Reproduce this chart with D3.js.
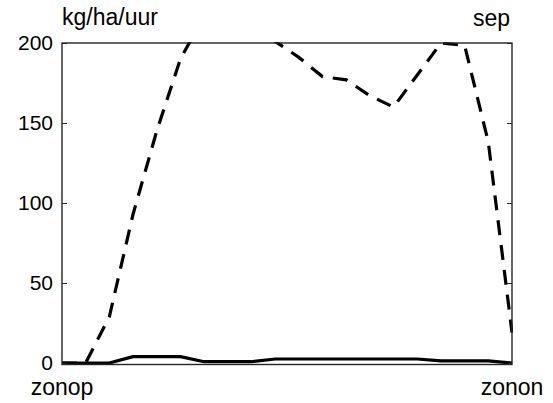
<!DOCTYPE html>
<html>
<head>
<meta charset="utf-8">
<script src="https://cdn.jsdelivr.net/npm/d3@7"></script>
<style>
  html, body { margin: 0; padding: 0; background: #fff; }
  svg { display: block; }
  text { font-family: "Liberation Sans", Arial, sans-serif; fill: #000; }
</style>
</head>
<body>
<svg id="chart" width="553" height="403"></svg>
<script>
// ---- data ----
const steps = d3.range(20);                // time steps from sunrise to sunset
const dashedValues = [0, 0, 29, 93, 145, 190, 217, 225, 215, 201, 191, 179, 177, 167, 160, 180, 200, 198.5, 138, 19];
const solidValues  = [0, 0, 0, 4, 4, 4, 0.8, 0.8, 0.8, 2.5, 2.5, 2.5, 2.5, 2.5, 2.5, 2.5, 1.3, 1.3, 1.3, 0];
const yTicks = [0, 50, 100, 150, 200];
const xLabels = ["zonop", "zonon"];
const yUnit = "kg/ha/uur";
const monthLabel = "sep";

// ---- layout ----
const L = 62, R = 512, T = 43, B = 363;
const svg = d3.select("#chart");

const x = d3.scaleLinear().domain([0, steps.length - 1]).range([L, R]);
const y = d3.scaleLinear().domain([0, 200]).range([B, T]);

svg.append("defs").append("clipPath").attr("id", "plotclip")
  .append("rect").attr("x", L - 1).attr("y", T - 1).attr("width", R - L + 2).attr("height", B - T + 4);

// lines
const line = d3.line().x((d, i) => x(steps[i])).y(d => y(d)).curve(d3.curveLinear);
const g = svg.append("g").attr("clip-path", "url(#plotclip)");
g.append("path").datum(dashedValues)
  .attr("d", line).attr("fill", "none").attr("stroke", "#000")
  .attr("stroke-width", 3.2).attr("stroke-dasharray", "15,10");
g.append("path").datum(solidValues)
  .attr("d", line).attr("fill", "none").attr("stroke", "#000")
  .attr("stroke-width", 3.2).attr("stroke-linejoin", "round");

// axes box
const axisColor = "#262626";
const leftAxis = d3.axisLeft(y).tickValues(yTicks).tickSize(-5).tickPadding(9).tickFormat(d3.format("d"));
const rightAxis = d3.axisRight(y).tickValues(yTicks).tickSize(-5).tickFormat("");
const gl = svg.append("g").attr("transform", `translate(${L},0)`).call(leftAxis);
const gr = svg.append("g").attr("transform", `translate(${R},0)`).call(rightAxis);
[gl, gr].forEach(ax => {
  ax.select(".domain").remove();
  ax.selectAll(".tick line").attr("stroke", axisColor);
});
gl.selectAll(".tick text").style("font-size", "21px").style("font-family", "'Liberation Sans', Arial, sans-serif").attr("fill", "#000");

svg.append("rect").attr("x", L).attr("y", T).attr("width", R - L).attr("height", B - T + 1.5)
  .attr("fill", "none").attr("stroke", axisColor).attr("stroke-width", 1.4);

// x labels
svg.selectAll("text.xl").data(xLabels).enter().append("text")
  .attr("class", "xl")
  .attr("x", (d, i) => i === 0 ? x(0) : x(steps.length - 1))
  .attr("y", 395)
  .attr("text-anchor", "middle")
  .style("font-size", "23px")
  .text(d => d);

// unit and month labels
svg.append("text").attr("x", L).attr("y", 25).style("font-size", "23px").text(yUnit);
svg.append("text").attr("x", 510).attr("y", 26).attr("text-anchor", "end").style("font-size", "23px").text(monthLabel);
</script>
</body>
</html>
